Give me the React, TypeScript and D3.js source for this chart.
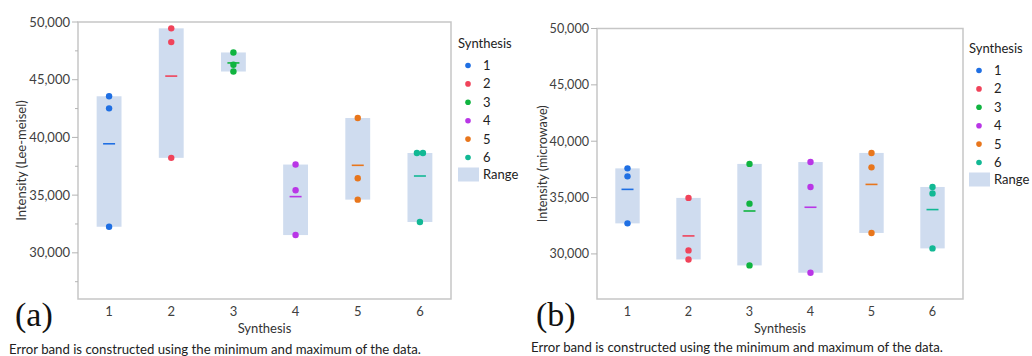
import { useEffect, useRef } from 'react';
import * as d3 from 'd3';

const groups = ['1', '2', '3', '4', '5', '6'];
const groupColors = ['#1f6fe3', '#f0435a', '#10b440', '#b936e6', '#e8761c', '#12b894'];

// Intensity values, three replicates per synthesis
const leeMeisel = [
  [43565, 42520, 32260],
  [49450, 48260, 38230],
  [47360, 46290, 45710],
  [37650, 35420, 31540],
  [41680, 36460, 34610],
  [38650, 38650, 32670],
];
const microwave = [
  [37590, 36880, 32710],
  [34970, 30310, 29510],
  [37985, 34460, 28980],
  [38150, 35940, 28330],
  [38960, 37680, 31860],
  [35940, 35370, 30490],
];

const yTicks = [30000, 35000, 40000, 45000, 50000];
const yMinorTicks = [27500, 32500, 37500, 42500, 47500];
const yDomain = [26000, 50000];

const footnote = 'Error band is constructed using the minimum and maximum of the data.';
const sansFont = 'Lato, "Open Sans", sans-serif';

interface PanelSpec {
  values: number[][];
  yLabel: string;
  tag: string;
  left: number;
  right: number;
  top: number;
  bottom: number;
  minor: boolean;
  fs: number;
  yLabelX: number;
  legendX: number;
  legendY: number;
  tagX: number;
  noteX: number;
  noteY: number;
}

const panels: PanelSpec[] = [
  {
    values: leeMeisel, yLabel: 'Intensity (Lee-meisel)', tag: '(a)',
    left: 78, right: 451, top: 22, bottom: 299, minor: true, fs: 13,
    yLabelX: 21, legendX: 458, legendY: 43, tagX: 15, noteX: 9, noteY: 354,
  },
  {
    values: microwave, yLabel: 'Intensity (microwave)', tag: '(b)',
    left: 597, right: 963, top: 28.5, bottom: 299, minor: false, fs: 12.6,
    yLabelX: 543, legendX: 969, legendY: 48, tagX: 536, noteX: 531, noteY: 352,
  },
];

function drawPanel(svg: d3.Selection<SVGSVGElement, unknown, null, undefined>, p: PanelSpec) {
  const g = svg.append('g');

  const x = d3.scaleBand().domain(groups).range([p.left, p.right]).padding(0);
  const y = d3.scaleLinear().domain(yDomain).range([p.bottom, p.top]);
  const bandW = x.bandwidth() * 0.4;

  // Range bands
  p.values.forEach((vals, i) => {
    const cx = x(groups[i])! + x.bandwidth() / 2;
    const lo = d3.min(vals)!;
    const hi = d3.max(vals)!;
    g.append('rect')
      .attr('x', cx - bandW / 2)
      .attr('y', y(hi))
      .attr('width', bandW)
      .attr('height', y(lo) - y(hi))
      .attr('fill', '#cfdcef');
  });

  // Frame
  g.append('rect')
    .attr('x', p.left)
    .attr('y', p.top)
    .attr('width', p.right - p.left)
    .attr('height', p.bottom - p.top)
    .attr('fill', 'none')
    .attr('stroke', '#c6c6c6')
    .attr('stroke-width', 1.5);

  // Y ticks
  yTicks.forEach((t) => {
    g.append('line')
      .attr('x1', p.left - 6).attr('x2', p.left)
      .attr('y1', y(t)).attr('y2', y(t))
      .attr('stroke', '#b4b4b4').attr('stroke-width', 1);
    g.append('text')
      .attr('x', p.left - 8)
      .attr('y', y(t))
      .attr('dy', '0.35em')
      .attr('text-anchor', 'end')
      .attr('font-family', sansFont)
      .attr('font-size', p.fs)
      .attr('fill', '#404040')
      .text(d3.format(',')(t));
  });
  if (p.minor) {
    yMinorTicks.forEach((t) => {
      g.append('line')
        .attr('x1', p.left - 3).attr('x2', p.left)
        .attr('y1', y(t)).attr('y2', y(t))
        .attr('stroke', '#b4b4b4').attr('stroke-width', 1);
    });
  }

  // X tick labels
  groups.forEach((c) => {
    g.append('text')
      .attr('x', x(c)! + x.bandwidth() / 2)
      .attr('y', p.bottom + 17)
      .attr('text-anchor', 'middle')
      .attr('font-family', sansFont)
      .attr('font-size', p.fs)
      .attr('fill', '#404040')
      .text(c);
  });

  // Means and points
  p.values.forEach((vals, i) => {
    const cx = x(groups[i])! + x.bandwidth() / 2;
    const color = groupColors[i];
    const m = d3.mean(vals)!;
    g.append('line')
      .attr('x1', cx - 6).attr('x2', cx + 6)
      .attr('y1', y(m)).attr('y2', y(m))
      .attr('stroke', color).attr('stroke-width', 1.6);

    // dodge points that would overlap
    const ys = vals.map((v) => y(v));
    ys.forEach((py, j) => {
      let dx = 0;
      const close = ys.findIndex((q, k) => k !== j && Math.abs(q - py) < 5);
      if (close >= 0) dx = j < close ? -3 : 3;
      g.append('circle')
        .attr('cx', cx + dx)
        .attr('cy', py)
        .attr('r', 3.2)
        .attr('fill', color);
    });
  });

  // Axis titles
  g.append('text')
    .attr('x', (p.left + p.right) / 2)
    .attr('y', p.bottom + 34)
    .attr('text-anchor', 'middle')
    .attr('font-family', sansFont)
    .attr('font-size', p.fs)
    .attr('fill', '#333')
    .text('Synthesis');

  g.append('text')
    .attr('transform', `translate(${p.yLabelX}, ${(p.top + p.bottom) / 2}) rotate(-90)`)
    .attr('text-anchor', 'middle')
    .attr('dy', '0.35em')
    .attr('font-family', sansFont)
    .attr('font-size', p.fs)
    .attr('fill', '#333')
    .text(p.yLabel);

  // Legend
  const lg = g.append('g').attr('transform', `translate(${p.legendX}, ${p.legendY})`);
  lg.append('text')
    .attr('x', 0).attr('y', 0).attr('dy', '0.35em')
    .attr('font-family', sansFont).attr('font-size', 13).attr('fill', '#222')
    .text('Synthesis');
  groups.forEach((c, i) => {
    const ry = 22.5 + i * 18.4;
    lg.append('circle').attr('cx', 10).attr('cy', ry).attr('r', 2.8).attr('fill', groupColors[i]);
    lg.append('text')
      .attr('x', 25).attr('y', ry).attr('dy', '0.35em')
      .attr('font-family', sansFont).attr('font-size', 13).attr('fill', '#222')
      .text(c);
  });
  const sy = 22.5 + 5 * 18.4 + 10;
  lg.append('rect').attr('x', 0).attr('y', sy).attr('width', 21).attr('height', 14).attr('fill', '#cfdcef');
  lg.append('text')
    .attr('x', 25).attr('y', sy + 7).attr('dy', '0.35em')
    .attr('font-family', sansFont).attr('font-size', 13).attr('fill', '#222')
    .text('Range');

  // Panel tag and footnote
  g.append('text')
    .attr('x', p.tagX).attr('y', p.bottom + 27)
    .attr('font-family', '"Liberation Serif", "Times New Roman", serif')
    .attr('font-size', 34).attr('fill', '#111')
    .text(p.tag);
  g.append('text')
    .attr('x', p.noteX).attr('y', p.noteY)
    .attr('font-family', sansFont).attr('font-size', 13.2).attr('fill', '#222')
    .text(footnote);
}

export default function App() {
  const svgRef = useRef<SVGSVGElement>(null);

  useEffect(() => {
    if (!svgRef.current) return;
    const svg = d3.select(svgRef.current);
    svg.selectAll('*').remove();
    svg.append('rect').attr('width', 1032).attr('height', 356).attr('fill', '#fff');
    panels.forEach((p) => drawPanel(svg, p));
  }, []);

  return (
    <svg
      ref={svgRef}
      width={1032}
      height={356}
      style={{ position: 'absolute', left: 0, top: 0, display: 'block' }}
    />
  );
}
